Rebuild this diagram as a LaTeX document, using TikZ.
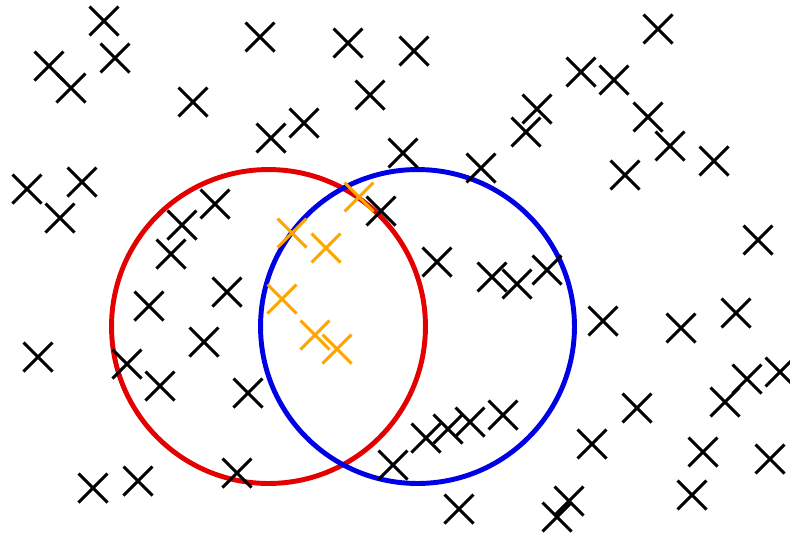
\documentclass[tikz,border=0pt]{standalone}
\usepackage{tikz}
\usetikzlibrary{shapes.misc}
\definecolor{KmRed}{RGB}{228,0,0}
\definecolor{KmBlue}{RGB}{0,0,228}
\definecolor{KmOrange}{RGB}{255,165,0}
\tikzset{
  km/point/.style={
    cross out,
    draw=black,
    line width=1.7pt,
    minimum size=0.58cm,
    inner sep=0pt,
    outer sep=0pt
  },
  km/hit/.style={km/point, draw=KmOrange},
  km/ring/.style={
    circle,
    line width=2.8pt,
    minimum size=6.28cm,
    inner sep=0pt
  }
}
\begin{document}
\begin{tikzpicture}[x=0.02cm,y=-0.02cm]
  \useasboundingbox (0,0) rectangle (790,535);
  % the two sets
  \node[km/ring,draw=KmRed] (redset) at (268.5,326.5) {};
  \node[km/ring,draw=KmBlue] (blueset) at (417.5,326.5) {};
  % samples outside the overlap
  \foreach \px/\py [count=\i] in {104/21,49/66,71/88,115/58,260/37,348/43,370/95,193/102,
      271/138,304/123,27/189,82/182,60/218,215/204,182/225,171/254,381/211,403/153,
      414/51,658/29,581/72,614/80,537/109,526/132,648/117,670/146,714/161,625/175,
      481/168,758/240,437/262,492/277,517/284,547/270,149/306,227/292,204/342,38/357,
      127/364,160/386,248/393,93/488,138/481,237/473,393/465,603/321,681/328,736/313,
      780/372,747/379,725/402,637/408,503/415,470/422,448/429,426/438,592/444,703/452,
      770/459,692/495,459/509,569/501,557/517}
    \node[km/point] (p\i) at (\px,\py) {};
  % samples in both sets
  \foreach \px/\py [count=\i] in {359/197,292/233,326/248,282/299,315/335,337/349}
    \node[km/hit] (q\i) at (\px,\py) {};
\end{tikzpicture}
\end{document}
